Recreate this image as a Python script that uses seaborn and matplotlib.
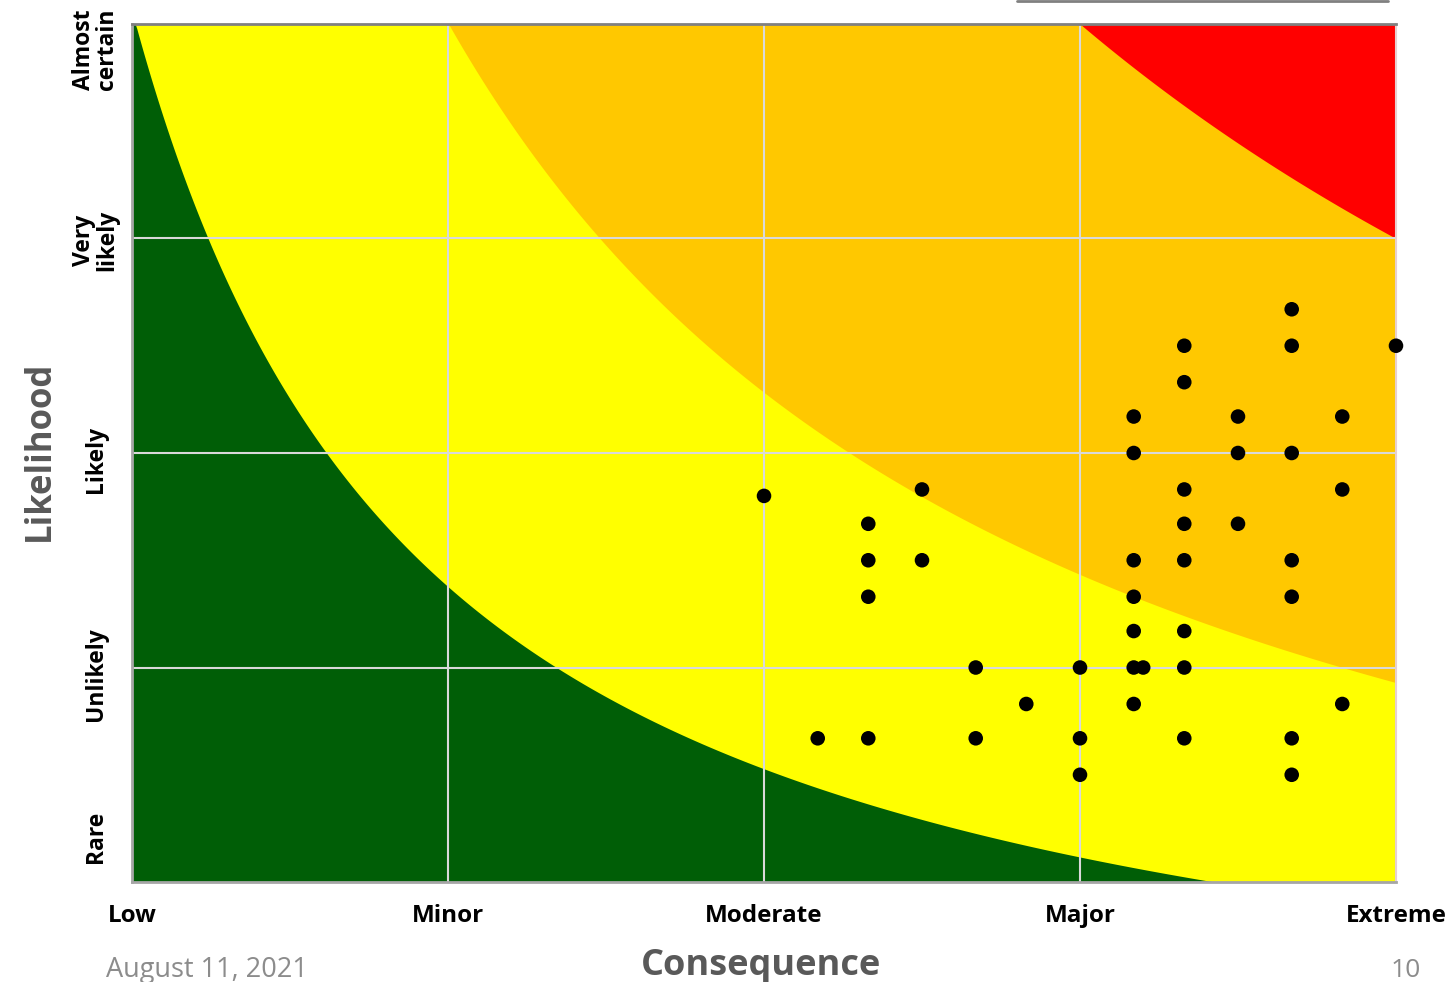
"""Risk matrix: likelihood vs consequence with scored items."""
import matplotlib.pyplot as plt
from matplotlib.lines import Line2D
import numpy as np
import seaborn as sns

# axis categories
consequence_labels = ["Low", "Minor", "Moderate", "Major", "Extreme"]
likelihood_labels = ["Rare", "Unlikely", "Likely", "Very\nlikely", "Almost\ncertain"]

# zone boundaries: (consequence + 1)**power * (likelihood + 1) = score
green_score, green_power = 5.06, 1.09
orange_score, orange_power = 10.29, 1.04
red_score, red_power = 20.0, 1.0

# scored items
item_consequence = (
    [2.0, 2.17]
    + [2.33] * 4
    + [2.5] * 2
    + [2.67] * 2
    + [2.83]
    + [3.0] * 3
    + [3.17] * 7
    + [3.2]
    + [3.33] * 8
    + [3.5] * 3
    + [3.67] * 7
    + [3.83] * 3
    + [4.0]
)
item_likelihood = (
    [1.8, 0.67]
    + [1.67, 1.5, 1.33, 0.67]
    + [1.83, 1.5]
    + [1.0, 0.67]
    + [0.83]
    + [1.0, 0.67, 0.5]
    + [2.17, 2.0, 1.5, 1.33, 1.17, 1.0, 0.83]
    + [1.0]
    + [2.5, 2.33, 1.83, 1.67, 1.5, 1.17, 1.0, 0.67]
    + [2.17, 2.0, 1.67]
    + [2.67, 2.5, 2.0, 1.5, 1.33, 0.67, 0.5]
    + [2.17, 1.83, 0.83]
    + [2.5]
)


def zone_edge(xs, score, power):
    """Likelihood on the zone boundary for each consequence value."""
    return np.clip(score / (xs + 1.0) ** power - 1.0, 0.0, 4.0)


sns.set_theme(style="white")
plt.rcParams["font.family"] = ["Open Sans", "DejaVu Sans"]

fig = plt.figure(figsize=(14.54, 9.82), dpi=100)
ax = fig.add_axes([0.0908, 0.1018, 0.8693, 0.8738])

xs = np.linspace(0, 4, 801)
ax.set_facecolor("#ffc800")
ax.fill_between(xs, 0, zone_edge(xs, orange_score, orange_power),
                color="#ffff00", lw=0, zorder=1)
ax.fill_between(xs, 0, zone_edge(xs, green_score, green_power),
                color="#005e06", lw=0, zorder=1.1)
ax.fill_between(xs, zone_edge(xs, red_score, red_power), 4.0,
                color="#ff0000", lw=0, zorder=1.1)

# grid on the inner category boundaries
for v in [1, 2, 3]:
    ax.axvline(v, color="#d9d9d9", lw=1.5, zorder=2)
    ax.axhline(v, color="#d9d9d9", lw=1.5, zorder=2)

sns.scatterplot(
    x=item_consequence, y=item_likelihood, ax=ax, color="black",
    s=110, edgecolor="none", clip_on=False, zorder=4
)

ax.set_xlim(0, 4)
ax.set_ylim(0, 4)
ax.grid(False)

ax.set_xticks(range(len(consequence_labels)))
ax.set_xticklabels(consequence_labels, fontsize=17.5, fontweight="bold")
ax.set_yticks([0.21, 0.97, 1.97, 2.99, 3.88])
ax.set_yticklabels(likelihood_labels, fontsize=16.5, fontweight="bold",
                   rotation=90, linespacing=0.95)
for lab in ax.get_yticklabels():
    lab.set_ha("center")
    lab.set_va("center")
    lab.set_multialignment("center")
ax.tick_params(axis="x", length=0, pad=16, colors="black")
ax.tick_params(axis="y", length=0, pad=26, colors="black")

for side in ["left", "bottom"]:
    ax.spines[side].set_color("#a6a6a6")
    ax.spines[side].set_linewidth(2)
ax.spines["top"].set_color("#808080")
ax.spines["top"].set_linewidth(2)
ax.spines["right"].set_color("#e6d0d0")
ax.spines["right"].set_linewidth(1.5)

fig.text(0.5237, 0.007, "Consequence", fontsize=26, fontweight="bold",
         color="#595959", ha="center", va="baseline")
fig.text(0.0275, 0.5407, "Likelihood", fontsize=25, fontweight="bold",
         color="#595959", ha="center", va="center", rotation=90)
fig.text(0.0729, 0.005, "August 11, 2021", fontsize=19.5, color="#8c8c8c",
         ha="left", va="baseline")
fig.text(0.977, 0.005, "10", fontsize=19, color="#8c8c8c",
         ha="right", va="baseline")
fig.add_artist(Line2D([0.6994, 0.9546], [0.9985, 0.9985], color="#808080", lw=2))

fig.savefig("out.png", dpi=100)
